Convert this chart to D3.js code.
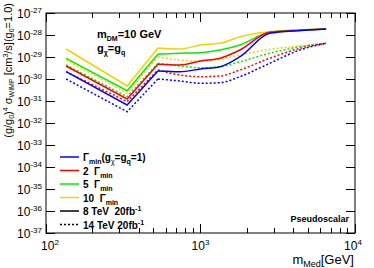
<!DOCTYPE html>
<meta charset="utf-8">
<style>
    body { margin: 0; background: #fff; }
    svg { font-family: "Liberation Sans", Arial, sans-serif; }
    .frame { fill: none; stroke: #000; stroke-width: 1; }
    .tick { stroke: #000; stroke-width: 1; shape-rendering: crispEdges; }
    path.line { fill: none; stroke-width: 1.5; }
    .b { font-weight: bold; }
</style>
<body>
<script src="https://cdn.jsdelivr.net/npm/d3@7"></script>
<script>

    // mediator masses (GeV)
    var masses = [135, 335, 530, 735, 1000, 1340, 1800, 2800, 4400, 6500];

    // 8 TeV, 20 fb^-1 (solid)
    var w1_8  = [2.15e-30, 6.58e-32, 2.31e-30, 2.15e-30, 2.85e-30, 3.62e-30, 1.03e-29, 1.19e-28, 1.60e-28, 1.87e-28];
    var w2_8  = [3.90e-30, 1.23e-31, 4.66e-30, 4.33e-30, 6.58e-30, 8.73e-30, 2.08e-29, 1.33e-28, 1.60e-28, 1.87e-28];
    var w5_8  = [8.73e-30, 2.94e-31, 1.33e-29, 1.47e-29, 1.57e-29, 2.08e-29, 3.51e-29, 1.33e-28, 1.69e-28, 1.87e-28];
    var w10_8 = [2.31e-29, 4.81e-31, 2.56e-29, 2.31e-29, 3.51e-29, 4.20e-29, 8.37e-29, 1.41e-28, 1.69e-28, 1.87e-28];

    // 14 TeV, 20 fb^-1 (dotted)
    var w1_14  = [1.00e-30, 3.26e-32, 1.00e-30, 8.11e-31, 6.38e-31, 6.79e-31, 1.27e-30, 5.17e-30, 2.08e-29, 4.20e-29];
    var w2_14  = [2.15e-30, 9.29e-32, 2.56e-30, 1.52e-30, 1.27e-30, 1.37e-30, 2.56e-30, 8.73e-30, 2.48e-29, 4.20e-29];
    var w5_14  = [4.33e-30, 1.57e-31, 5.17e-30, 3.90e-30, 3.26e-30, 3.62e-30, 6.11e-30, 1.47e-29, 2.94e-29, 4.20e-29];
    var w10_14 = [7.31e-30, 2.24e-31, 1.03e-29, 7.31e-30, 6.58e-30, 7.86e-30, 1.23e-29, 2.24e-29, 3.16e-29, 4.20e-29];

    var widthColors = ["#0000ff", "#ff0000", "#00ee00", "#ffcc00"];

    var series = [
        {v: w1_8, c: 0, dash: null}, {v: w2_8, c: 1, dash: null},
        {v: w5_8, c: 2, dash: null}, {v: w10_8, c: 3, dash: null},
        {v: w1_14, c: 0, dash: "2,2"}, {v: w2_14, c: 1, dash: "2,2"},
        {v: w5_14, c: 2, dash: "2,2"}, {v: w10_14, c: 3, dash: "2,2"}
    ];

    var margin = {top: 13, left: 46},
        width = 309, height = 220;

    var x = d3.scaleLog().domain([100, 10000]).range([0, width]);
    var y = d3.scaleLog().domain([1e-37, 1e-27]).range([height, 0]);

    var svg = d3.select("body").append("svg")
        .attr("width", 374).attr("height", 268);

    var g = svg.append("g")
        .attr("transform", "translate(" + margin.left + "," + margin.top + ")");

    // sharp V at low mass, smooth above the peak
    var pts = function(v) { return v.map(function(d, i) { return [x(masses[i]), y(d)]; }); };
    var lineStraight = d3.line();
    var lineSmooth = d3.line().curve(d3.curveMonotoneX);

    // draw dotted first, solid on top
    series.slice().reverse().forEach(function(s) {
        var p = pts(s.v);
        [lineStraight(p.slice(0, 3)), lineSmooth(p.slice(2))].forEach(function(dd) {
            g.append("path").attr("class", "line")
                .attr("d", dd)
                .style("stroke", widthColors[s.c])
                .style("stroke-dasharray", s.dash);
        });
    });

    // frame
    g.append("rect").attr("class", "frame")
        .attr("width", width).attr("height", height);

    // ticks (inside, ROOT style)
    function isMajor(v) { return Math.abs(Math.log10(v) - Math.round(Math.log10(v))) < 1e-6; }

    var xt = x.ticks();
    g.selectAll(".xb").data(xt).enter().append("line").attr("class", "tick")
        .attr("x1", d => x(d)).attr("x2", d => x(d))
        .attr("y1", height).attr("y2", d => height - (isMajor(d) ? 9 : 5));
    g.selectAll(".xt").data(xt).enter().append("line").attr("class", "tick")
        .attr("x1", d => x(d)).attr("x2", d => x(d))
        .attr("y1", 0).attr("y2", d => isMajor(d) ? 9 : 5);

    var yt = y.ticks();
    g.selectAll(".yl").data(yt).enter().append("line").attr("class", "tick")
        .attr("y1", d => y(d)).attr("y2", d => y(d))
        .attr("x1", 0).attr("x2", d => isMajor(d) ? 9 : 5);
    g.selectAll(".yr").data(yt).enter().append("line").attr("class", "tick")
        .attr("y1", d => y(d)).attr("y2", d => y(d))
        .attr("x1", width).attr("x2", d => width - (isMajor(d) ? 9 : 5));

    // x tick labels
    var xLabels = [100, 1000, 10000];
    var xShift = [4, 0, -2];
    xLabels.forEach(function(v, i) {
        var t = g.append("text").attr("x", x(v) + xShift[i]).attr("y", height + 17)
            .attr("text-anchor", "middle").style("font-size", "12px");
        t.append("tspan").text("10");
        t.append("tspan").attr("dy", -5).style("font-size", "8px").text(Math.round(Math.log10(v)));
    });

    // y tick labels
    var yLabels = d3.range(-37, -26);
    yLabels.forEach(function(e) {
        var t = g.append("text").attr("x", -4).attr("y", y(Math.pow(10, e)) + 5)
            .attr("text-anchor", "end").style("font-size", "12px");
        t.append("tspan").text("10");
        t.append("tspan").attr("dy", -5).style("font-size", "8px").text(e);
    });

    // x axis title
    var xt2 = svg.append("text").attr("x", 354).attr("y", 264)
        .attr("text-anchor", "end").style("font-size", "13px");
    xt2.append("tspan").text("m");
    xt2.append("tspan").attr("dy", 3).style("font-size", "9px").text("Med");
    xt2.append("tspan").attr("dy", -3).text("[GeV]");

    // y axis title
    var yt2 = svg.append("text")
        .attr("transform", "translate(12,3) rotate(-90)")
        .attr("text-anchor", "end").style("font-size", "11px");
    yt2.append("tspan").text("(g/g");
    yt2.append("tspan").attr("dy", 2).style("font-size", "7px").text("0");
    yt2.append("tspan").attr("dy", -2).text(")");
    yt2.append("tspan").attr("dy", -4).style("font-size", "7px").text("4");
    yt2.append("tspan").attr("dy", 4).text(" σ");
    yt2.append("tspan").attr("dy", 2).style("font-size", "7px").text("WIMP");
    yt2.append("tspan").attr("dy", -2).text(" [cm");
    yt2.append("tspan").attr("dy", -4).style("font-size", "7px").text("3");
    yt2.append("tspan").attr("dy", 4).text("/s](g");
    yt2.append("tspan").attr("dy", 2).style("font-size", "7px").text("0");
    yt2.append("tspan").attr("dy", -2).text("=1.0)");

    // annotations
    var a1 = svg.append("text").attr("class", "b").attr("x", 97).attr("y", 38).style("font-size", "11px");
    a1.append("tspan").text("m");
    a1.append("tspan").attr("dy", 3).style("font-size", "7px").text("DM");
    a1.append("tspan").attr("dy", -3).text("=10 GeV");
    var a2 = svg.append("text").attr("class", "b").attr("x", 97).attr("y", 52).style("font-size", "11px");
    a2.append("tspan").text("g");
    a2.append("tspan").attr("dy", 3).style("font-size", "7px").text("χ");
    a2.append("tspan").attr("dy", -3).text("=g");
    a2.append("tspan").attr("dy", 3).style("font-size", "7px").text("q");

    svg.append("text").attr("class", "b").attr("x", 349).attr("y", 222)
        .attr("text-anchor", "end").style("font-size", "9px").text("Pseudoscalar");

    // legend
    var nb = "\u00a0";
    var legend = [
        {c: widthColors[0], dash: null, parts: [["Γ", 0], ["min", 1], ["(g", 0], ["χ", 1], ["=g", 0], ["q", 1], ["=1)", 0]]},
        {c: widthColors[1], dash: null, parts: [["2" + nb + nb + "Γ", 0], ["min", 1]]},
        {c: widthColors[2], dash: null, parts: [["5" + nb + nb + "Γ", 0], ["min", 1]]},
        {c: widthColors[3], dash: null, parts: [["10" + nb + nb + "Γ", 0], ["min", 1]]},
        {c: "#000", dash: null, parts: [["8 TeV" + nb + nb + "20fb", 0], ["-1", 2]]},
        {c: "#000", dash: "2,2", parts: [["14 TeV 20fb", 0], ["-1", 2]]}
    ];
    legend.forEach(function(l, i) {
        var ly = 157 + i * 13.5;
        svg.append("line").attr("x1", 60).attr("x2", 79).attr("y1", ly).attr("y2", ly)
            .style("stroke", l.c).style("stroke-width", 1.5).style("stroke-dasharray", l.dash);
        var t = svg.append("text").attr("class", "b").attr("x", 83).attr("y", ly + 4).style("font-size", "10px");
        var cur = 0;
        l.parts.forEach(function(p) {
            var off = p[1] === 1 ? 3 : (p[1] === 2 ? -4 : 0);
            t.append("tspan").attr("dy", off - cur)
                .style("font-size", p[1] ? "7px" : "10px")
                .style("font-weight", p[0] === "χ" ? "normal" : null)
                .text(p[0]);
            cur = off;
        });
    });

</script>
</body>
